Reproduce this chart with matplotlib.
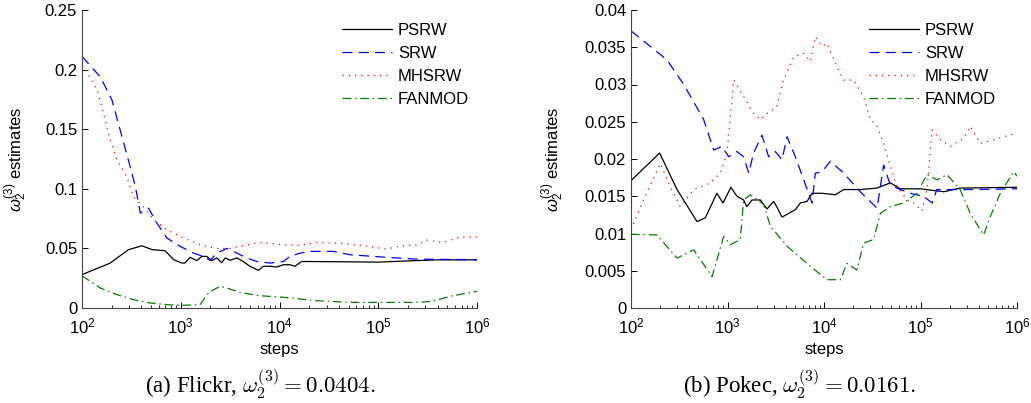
import matplotlib
matplotlib.use("Agg")
import matplotlib.pyplot as plt
from matplotlib.ticker import LogLocator, NullFormatter, FixedLocator, FixedFormatter

plt.rcParams['font.family'] = ['Liberation Sans', 'DejaVu Sans']
plt.rcParams['mathtext.fontset'] = 'custom'
plt.rcParams['mathtext.rm'] = 'Liberation Sans'
plt.rcParams['mathtext.it'] = 'Liberation Sans:italic'
plt.rcParams['mathtext.bf'] = 'Liberation Sans:bold'
plt.rcParams['mathtext.sf'] = 'Liberation Sans'

series_names = ["PSRW", "SRW", "MHSRW", "FANMOD"]

# ---------------- Flickr ----------------
fl_psrw_x = [100, 193, 295, 404, 512, 694, 850, 1024, 1100, 1245, 1455, 1633, 1837, 2061, 2317, 2600, 2818, 3162, 3690, 4300, 5012, 6110, 6870, 8017, 9330, 10960, 12760, 14350, 16750, 20420, 40000, 100000, 200000, 400000, 1000000]
fl_psrw_y = [0.028, 0.0377, 0.0489, 0.0522, 0.049, 0.048, 0.0405, 0.0377, 0.0377, 0.0425, 0.0397, 0.0433, 0.0433, 0.0397, 0.042, 0.038, 0.042, 0.040, 0.042, 0.039, 0.035, 0.0316, 0.035, 0.035, 0.0344, 0.0363, 0.0363, 0.035, 0.039, 0.039, 0.0388, 0.0385, 0.0395, 0.0404, 0.0404]
fl_srw_x = [100, 153, 201, 244, 295, 347, 389, 472, 573, 724, 986, 1349, 1698, 1982, 2317, 2924, 3412, 4656, 5888, 8017, 10960, 12760, 16110, 20420, 35000, 51640, 112200, 243800, 1000000]
fl_srw_y = [0.211, 0.194, 0.1746, 0.149, 0.124, 0.102, 0.0796, 0.0838, 0.0712, 0.0587, 0.0517, 0.046, 0.0433, 0.040, 0.046, 0.050, 0.0475, 0.042, 0.039, 0.0377, 0.039, 0.0433, 0.046, 0.0475, 0.0475, 0.0447, 0.0427, 0.041, 0.0405]
fl_mhsrw_x = [100, 112, 142, 166, 193, 226, 285, 331, 417, 531, 724, 1072, 1570, 2317, 3162, 3981, 6310, 10960, 15850, 23770, 35000, 51640, 75860, 120200, 166000, 243800, 309000, 452900, 668300, 1000000]
fl_mhsrw_y = [0.204, 0.198, 0.183, 0.163, 0.141, 0.124, 0.110, 0.0936, 0.085, 0.074, 0.0656, 0.0587, 0.053, 0.050, 0.050, 0.0517, 0.055, 0.053, 0.0525, 0.055, 0.0545, 0.0536, 0.052, 0.0494, 0.052, 0.053, 0.057, 0.055, 0.0595, 0.0595]
fl_fan_x = [100, 153, 226, 331, 490, 724, 1000, 1570, 1905, 2228, 2512, 2924, 3981, 6310, 10960, 23770, 51640, 112200, 243800, 359000, 529700, 1000000]
fl_fan_y = [0.027, 0.0168, 0.0112, 0.007, 0.0042, 0.0028, 0.0022, 0.0028, 0.0126, 0.016, 0.0182, 0.0168, 0.013, 0.0103, 0.009, 0.0061, 0.0047, 0.0047, 0.0047, 0.0056, 0.0098, 0.014]

# ---------------- Pokec ----------------
po_psrw_x = [100, 198, 300, 483, 589, 776, 897, 1086, 1253, 1469, 1585, 1795, 2188, 2570, 3006, 3236, 3673, 4305, 5047, 5689, 6668, 7516, 9550, 13090, 16000, 23770, 35480, 48640, 61660, 99540, 173800, 257000, 1000000]
po_psrw_y = [0.0171, 0.0208, 0.0159, 0.0116, 0.0121, 0.0154, 0.0141, 0.0162, 0.015, 0.0145, 0.0136, 0.0145, 0.0145, 0.0133, 0.0143, 0.0136, 0.0122, 0.0127, 0.0132, 0.0141, 0.0143, 0.0154, 0.0154, 0.0152, 0.0159, 0.0159, 0.0161, 0.0168, 0.016, 0.016, 0.0156, 0.0161, 0.0162]
po_srw_x = [100, 236, 352, 566, 719, 877, 1028, 1253, 1469, 1660, 1862, 2275, 2667, 3126, 3673, 4140, 5047, 6166, 7516, 8128, 9550, 11640, 16000, 23770, 35480, 41500, 48640, 61660, 78340, 107200, 131800, 147900, 385500, 1000000]
po_srw_y = [0.0372, 0.0333, 0.030, 0.0253, 0.0212, 0.0217, 0.0203, 0.021, 0.0203, 0.0181, 0.0208, 0.0232, 0.0203, 0.021, 0.0199, 0.023, 0.0203, 0.0172, 0.0141, 0.0181, 0.0183, 0.0197, 0.0181, 0.0156, 0.0134, 0.0192, 0.0165, 0.0159, 0.0154, 0.015, 0.0141, 0.0159, 0.0159, 0.016]
po_mhsrw_x = [100, 135, 201, 255, 324, 447, 664, 843, 989, 1159, 1469, 1862, 2188, 2570, 3236, 3802, 4853, 6166, 7211, 8128, 9550, 10720, 13650, 16000, 20280, 25700, 30200, 35480, 41500, 48640, 57020, 72440, 85110, 103500, 116700, 131800, 160300, 204200, 280000, 328100, 416900, 572800, 1000000]
po_mhsrw_y = [0.0105, 0.0145, 0.0194, 0.0163, 0.0136, 0.0159, 0.0168, 0.0181, 0.0208, 0.0306, 0.0284, 0.0261, 0.0253, 0.0261, 0.027, 0.0306, 0.0337, 0.0342, 0.0331, 0.0364, 0.0351, 0.0355, 0.0324, 0.0306, 0.0306, 0.0284, 0.0253, 0.0244, 0.0221, 0.019, 0.0163, 0.0145, 0.0141, 0.013, 0.0159, 0.0239, 0.0226, 0.0217, 0.0228, 0.0244, 0.0221, 0.0226, 0.0235]
po_fan_x = [100, 186, 300, 447, 692, 912, 1072, 1358, 1469, 1726, 2371, 2780, 4140, 7211, 10720, 14790, 17300, 21980, 25700, 32660, 38370, 48640, 66830, 91830, 116700, 147900, 188400, 257000, 328100, 450800, 529700, 671400, 922600, 1000000]
po_fan_y = [0.0099, 0.0098, 0.0067, 0.0078, 0.0042, 0.0096, 0.0085, 0.0092, 0.0145, 0.0152, 0.0139, 0.011, 0.0083, 0.0056, 0.0038, 0.0038, 0.006, 0.0051, 0.0087, 0.0092, 0.0127, 0.0136, 0.0141, 0.0154, 0.0179, 0.0172, 0.0179, 0.0159, 0.0127, 0.0098, 0.0123, 0.0154, 0.0183, 0.0177]

fl_yticks = [0, 0.05, 0.1, 0.15, 0.2, 0.25]
fl_ylabels = ["0", "0.05", "0.1", "0.15", "0.2", "0.25"]
po_yticks = [0, 0.005, 0.01, 0.015, 0.02, 0.025, 0.03, 0.035, 0.04]
po_ylabels = ["0", "0.005", "0.01", "0.015", "0.02", "0.025", "0.03", "0.035", "0.04"]

captions = [r"(a) Flickr, $\omega_2^{(3)}=0.0404.$", r"(b) Pokec, $\omega_2^{(3)}=0.0161.$"]

styles = [
    dict(color="black", linestyle="-", lw=0.9),
    dict(color=(0, 0, 1), linestyle=(0, (8, 5)), lw=0.9),
    dict(color=(1, 0, 0), linestyle=(0, (1, 4)), lw=0.9),
    dict(color=(0, 0.5, 0), linestyle=(0, (7, 3, 1.2, 3)), lw=0.9),
]

W, H = 1031, 403
fig = plt.figure(figsize=(W / 100, H / 100), dpi=100)
ax1 = fig.add_axes([82 / W, (H - 308) / H, (477 - 82) / W, 298 / H])
ax2 = fig.add_axes([631 / W, (H - 308) / H, (1017 - 631) / W, 298 / H])

FS = 12
panels = [
    (ax1, [(fl_psrw_x, fl_psrw_y), (fl_srw_x, fl_srw_y), (fl_mhsrw_x, fl_mhsrw_y), (fl_fan_x, fl_fan_y)], 0.25, fl_yticks, fl_ylabels, (342 - 82) / 395, 260, 29),
    (ax2, [(po_psrw_x, po_psrw_y), (po_srw_x, po_srw_y), (po_mhsrw_x, po_mhsrw_y), (po_fan_x, po_fan_y)], 0.04, po_yticks, po_ylabels, (869 - 631) / 386, 800, 566),
]

for i, (ax, data, ymax, yt, yl, legx, capx, ylx) in enumerate(panels):
    for (xs, ys), name, st in zip(data, series_names, styles):
        ax.plot(xs, ys, label=name, **st)
    ax.set_xscale("log")
    ax.set_xlim(100, 1e6)
    ax.set_ylim(0, ymax)
    ax.yaxis.set_major_locator(FixedLocator(yt))
    ax.yaxis.set_major_formatter(FixedFormatter(yl))
    ax.xaxis.set_major_locator(LogLocator(base=10, numticks=10))
    ax.xaxis.set_minor_locator(LogLocator(base=10, subs=range(2, 10), numticks=20))
    ax.xaxis.set_minor_formatter(NullFormatter())
    ax.spines["top"].set_visible(False)
    ax.spines["right"].set_visible(False)
    for s in ("left", "bottom"):
        ax.spines[s].set_linewidth(0.8)
        ax.spines[s].set_color("#444444")
    ax.tick_params(axis="both", which="major", direction="in", length=4, width=0.7, labelsize=FS, colors="black")
    ax.tick_params(axis="x", which="minor", direction="in", length=2.2, width=0.6)
    ax.tick_params(axis="x", which="major", pad=6)
    ax.set_xlabel("steps", fontsize=FS, labelpad=4)
    ax.set_ylabel(r"$\omega_2^{(3)}$ estimates", fontsize=FS)
    pos = ax.get_position()
    ax.yaxis.set_label_coords((ylx - pos.x0 * W) / (pos.width * W), 0.5)
    ax.legend(loc="upper left", bbox_to_anchor=(legx, (308 - 23) / 298), frameon=False, fontsize=FS,
              handlelength=3.0, handletextpad=0.35, labelspacing=0.48, borderpad=0, borderaxespad=0)
    fig.text(capx / W, (H - 384) / H, captions[i], ha="center", va="center",
             fontsize=16.5, family=["Liberation Serif", "DejaVu Serif"], math_fontfamily="cm")

fig.savefig("out.png", dpi=100)
